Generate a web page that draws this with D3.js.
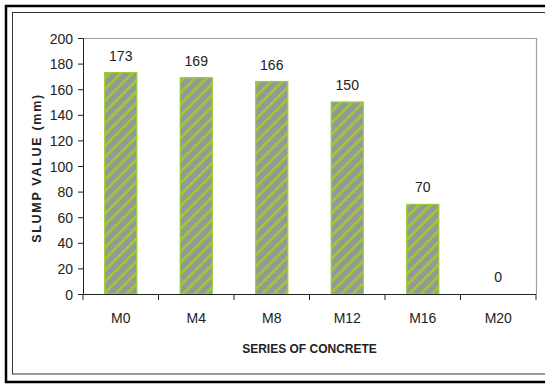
<!DOCTYPE html>
<html>
<head>
<meta charset="utf-8">
<script src="https://cdn.jsdelivr.net/npm/d3@7"></script>
<style>
body { margin: 0; background: #fff; }
svg text { font-family: "Liberation Sans Narrow", "Arial Narrow", Arial, sans-serif; fill: #222; }
</style>
</head>
<body>
<script>
var categories = ["M0", "M4", "M8", "M12", "M16", "M20"];
var slump = [173, 169, 166, 150, 70, 0];
var yTicks = [0, 20, 40, 60, 80, 100, 120, 140, 160, 180, 200];

var width = 545, height = 384;
var plot = {left: 83, top: 38, right: 536, bottom: 294};

var svg = d3.select("body").append("svg").attr("width", width).attr("height", height);

// outer and inner frames
svg.append("rect").attr("x", 6).attr("y", 6).attr("width", 560).attr("height", 376)
	.attr("fill", "none").attr("stroke", "#000").attr("stroke-width", 2.5);
svg.append("rect").attr("x", 12.5).attr("y", 12.5).attr("width", 560).attr("height", 361.5)
	.attr("fill", "none").attr("stroke", "#333").attr("stroke-width", 1);

// hatch pattern
var defs = svg.append("defs");
var pat = defs.append("pattern").attr("id", "hatch").attr("patternUnits", "userSpaceOnUse")
	.attr("width", 8).attr("height", 8).attr("patternTransform", "rotate(45)");
pat.append("rect").attr("width", 8).attr("height", 8).attr("fill", "#979797");
pat.append("rect").attr("x", 0).attr("width", 2.6).attr("height", 8).attr("fill", "#9acd32");

var x = d3.scaleBand().domain(categories).range([plot.left, plot.right]).paddingInner(0.575).paddingOuter(0.2875);
var xb = d3.scaleBand().domain(categories).range([plot.left, plot.right]);
var y = d3.scaleLinear().domain([0, 200]).range([plot.bottom, plot.top]);

// plot border (top/right)
svg.append("path")
	.attr("d", "M" + plot.left + "," + (plot.top + 0.5) + "H" + (plot.right + 0.5) + "V" + plot.bottom)
	.attr("fill", "none").attr("stroke", "#a0a0a0").attr("stroke-width", 1.2);

svg.selectAll(".bar").data(slump).enter().append("rect")
	.attr("class", "bar")
	.attr("x", function(d, i){ return x(categories[i]); })
	.attr("y", function(d){ return y(d); })
	.attr("width", x.bandwidth())
	.attr("height", function(d){ return plot.bottom - y(d); })
	.attr("fill", "url(#hatch)")
	.attr("stroke", function(d){ return d > 0 ? "#9acd32" : "none"; })
	.attr("stroke-width", 1.2);

svg.selectAll(".val").data(slump).enter().append("text")
	.attr("class", "val")
	.attr("x", function(d, i){ return x(categories[i]) + x.bandwidth() / 2; })
	.attr("y", function(d){ return y(d) - 12; })
	.attr("text-anchor", "middle")
	.style("font-size", "14px")
	.text(function(d){ return d; });

// y axis
var yAxis = svg.append("g").attr("transform", "translate(" + plot.left + ",0)")
	.call(d3.axisLeft(y).tickValues(yTicks).tickSize(5).tickPadding(5));
yAxis.selectAll("text").style("font-size", "14px").attr("dy", "0.36em");

// x axis
var xAxis = svg.append("g").attr("transform", "translate(0," + plot.bottom + ")")
	.call(d3.axisBottom(xb).tickSize(0).tickPadding(19));
xAxis.selectAll("text").style("font-size", "14px");
xAxis.select(".domain").remove();
svg.append("line").attr("x1", plot.left).attr("x2", plot.right).attr("y1", plot.bottom + 0.5).attr("y2", plot.bottom + 0.5)
	.attr("stroke", "#222");
svg.selectAll(".xtick").data(d3.range(categories.length + 1)).enter().append("line")
	.attr("class", "xtick")
	.attr("x1", function(i){ return plot.left + i * xb.step(); })
	.attr("x2", function(i){ return plot.left + i * xb.step(); })
	.attr("y1", plot.bottom).attr("y2", plot.bottom + 6)
	.attr("stroke", "#222");
svg.selectAll(".domain, .tick line").attr("stroke", "#222");

// axis titles
svg.append("text")
	.attr("transform", "translate(41," + ((plot.top + plot.bottom) / 2 + 2) + ") rotate(-90)")
	.attr("text-anchor", "middle")
	.style("font-family", "Arial, 'Liberation Sans', sans-serif")
	.style("font-weight", "bold").style("font-size", "12.5px").style("letter-spacing", "1.7px")
	.text("SLUMP VALUE (mm)");

svg.append("text")
	.attr("x", (plot.left + plot.right) / 2).attr("y", 353)
	.attr("text-anchor", "middle")
	.style("font-family", "Arial, 'Liberation Sans', sans-serif")
	.style("font-weight", "bold").style("font-size", "12px")
	.text("SERIES OF CONCRETE");
</script>
</body>
</html>
